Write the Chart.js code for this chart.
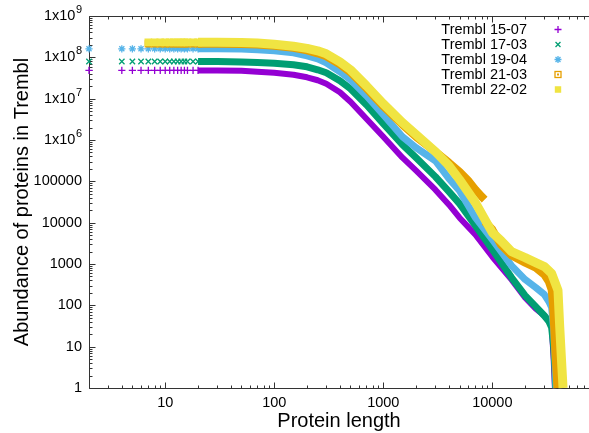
<!DOCTYPE html>
<html>
<head>
<meta charset="utf-8">
<script src="https://cdn.jsdelivr.net/npm/chart.js@4.4.0/dist/chart.umd.min.js"></script>
<style>
html, body { margin: 0; padding: 0; background: #fff; }
</style>
</head>
<body>
<canvas id="chart" width="589" height="433"></canvas>
<script>
// values (protein length -> number of proteins)
const len1507 = [2, 4, 5, 6, 7, 8, 9, 10, 11, 12, 13, 14, 15, 16, 18, 20,
    30, 50, 70, 100, 150, 200, 250, 300, 400, 500, 700, 1000, 1500, 2000, 3000, 4000, 5000,
    7000, 10000, 15000, 20000, 25000, 30000, 35000, 36500, 37500];
const n1507 = [48100000, 48100000, 48100000, 48100000, 48100000, 48100000, 48100000, 48100000,
    48100000, 48100000, 48100000, 48100000, 48100000, 48100000, 48100000, 48100000,
    47800000, 47300000, 44800000, 42300000, 37900000, 32900000, 27900000, 22900000, 14300000,
    8420000, 3270000, 1200000, 373000, 181000, 62800, 27200, 13200,
    5130, 1500, 420, 154, 83, 56, 34, 5, 1];

const len1703 = [2, 4, 5, 6, 7, 8, 9, 10, 11, 12, 13, 14, 15, 16, 18, 20,
    30, 50, 70, 100, 150, 200, 250, 300, 400, 500, 700, 1000, 1500, 2000, 3000, 4000, 5000,
    7000, 10000, 15000, 20000, 25000, 30000, 33000, 35000, 36500, 37500, 38000];
const n1703 = [79300000, 79300000, 79300000, 79300000, 79300000, 79300000, 79300000, 79300000,
    79300000, 79300000, 79300000, 79300000, 79300000, 79300000, 79300000, 79300000,
    78900000, 77100000, 74600000, 71800000, 66000000, 59100000, 50000000, 42300000, 27100000,
    17400000, 7130000, 2480000, 769000, 373000, 130000, 56300, 28800,
    8470, 2230, 469, 172, 93, 56, 41, 29, 10, 3, 1];

const len1904 = [2, 4, 5, 6, 7, 8, 9, 10, 11, 12, 13, 14, 15, 16, 18, 20,
    30, 50, 70, 100, 150, 200, 250, 300, 400, 500, 700, 1000, 1500, 2000, 3000, 4000, 5000,
    7000, 10000, 15000, 20000, 25000, 30000, 33000, 35000, 36500, 37500, 38500];
const n1904 = [161000000, 161000000, 161000000, 161000000, 161000000, 161000000, 161000000, 161000000,
    161000000, 161000000, 161000000, 161000000, 161000000, 161000000, 161000000, 161000000,
    161000000, 158000000, 152000000, 144000000, 129000000, 109000000, 92200000, 73800000, 44700000,
    28700000, 11800000, 4080000, 1200000, 650000, 315000, 116000, 59400,
    13200, 3890, 914, 420, 269, 182, 123, 88, 26, 6, 1];

const len2103 = [7, 8, 9, 10, 11, 12, 13, 14, 15, 16, 18, 20,
    30, 50, 70, 100, 150, 200, 250, 300, 400, 500, 700, 1000, 1500, 2000, 3000, 4000, 5000,
    6000, 7000, 8000, 8500, 8500, 10000, 12000, 15000, 20000, 25000, 30000, 33000, 35000,
    36000, 37000, 38000, 39000, 39500];
const n2103 = [212000000, 212000000, 212000000, 212000000, 212000000, 212000000,
    212000000, 212000000, 212000000, 212000000, 212000000, 212000000,
    212000000, 210000000, 203000000, 190000000, 170000000, 148000000, 125000000, 106000000, 67900000,
    43500000, 17900000, 6560000, 2350000, 1200000, 521000, 282000, 171000,
    104000, 62900, 42600, 36100, 10600, 6780, 2940, 1600, 1080, 818, 555, 373, 239,
    104, 26, 6, 2, 1];

const len2202 = [7, 8, 9, 10, 11, 12, 13, 14, 15, 16, 18, 20,
    30, 50, 70, 100, 150, 200, 250, 300, 400, 500, 700, 1000, 1500, 2000, 3000, 4000, 5000,
    7000, 10000, 12000, 15000, 20000, 25000, 30000, 35000, 38000, 40000, 41500, 43500, 44500];
const n2202 = [231000000, 231000000, 231000000, 231000000, 231000000, 231000000,
    231000000, 231000000, 231000000, 231000000, 231000000, 231000000,
    231000000, 229000000, 221000000, 207000000, 185000000, 165000000, 144000000, 122000000, 78000000,
    50000000, 20500000, 7530000, 2620000, 1340000, 521000, 239000, 110000,
    30500, 5740, 3680, 1995, 1430, 1080, 865, 586, 330, 230, 30, 3, 1];

const xTicks = [10, 100, 1000, 10000];
const yTicks = [1, 10, 100, 1000, 10000, 100000, 1e6, 1e7, 1e8, 1e9];

const FONT = 'Liberation Sans, Arial, sans-serif';

function series(label, xs, ys, color, style, width, radius, order) {
    return {
        label: label,
        data: xs.map((x, i) => ({ x: x, y: ys[i] })),
        showLine: true,
        borderColor: color,
        backgroundColor: color,
        borderWidth: width,
        borderJoinStyle: 'round',
        pointStyle: style,
        pointBorderWidth: 1.3,
        pointRadius: ctx => (ctx.raw && ctx.raw.x <= 20) ? radius : 0,
        segment: {
            // separate markers at small lengths, and no line across a jump
            borderColor: ctx => (ctx.p0.parsed.x < 20 || ctx.p0.parsed.x === ctx.p1.parsed.x) ? 'transparent' : color
        },
        clip: false,
        order: order
    };
}

// gnuplot-like border with inward ticks, and 1x10^n labels
const gnuAxes = {
    id: 'gnuAxes',
    beforeDatasetsDraw(chart) {
        const { ctx, chartArea: a, scales: { x, y } } = chart;
        const L = Math.round(a.left) + 0.5, B = Math.round(a.bottom) + 0.5, T = Math.round(a.top) + 0.5;
        const R = chart.width + 2;
        ctx.save();
        ctx.strokeStyle = '#333';
        ctx.lineWidth = 1;
        ctx.beginPath();
        ctx.moveTo(R, T); ctx.lineTo(L, T); ctx.lineTo(L, B); ctx.lineTo(R, B);
        for (let d = 1; d <= 100000; d *= 10) {
            for (let m = 1; m < 10; m++) {
                const v = d * m;
                if (v < x.min) continue;
                const px = Math.round(x.getPixelForValue(v)) + 0.5;
                if (px > R) continue;
                const len = m === 1 ? 6 : 3;
                ctx.moveTo(px, B); ctx.lineTo(px, B - len);
                ctx.moveTo(px, T); ctx.lineTo(px, T + len);
            }
        }
        for (let d = 1; d <= 1e9; d *= 10) {
            for (let m = 1; m < 10; m++) {
                const v = d * m;
                if (v < y.min || v > y.max) continue;
                const py = Math.round(y.getPixelForValue(v)) + 0.5;
                const len = m === 1 ? 6 : 3;
                ctx.moveTo(L, py); ctx.lineTo(L + len, py);
            }
        }
        ctx.stroke();

        // y tick labels
        ctx.fillStyle = '#000';
        ctx.textBaseline = 'middle';
        ctx.textAlign = 'right';
        const right = a.left - 7;
        yTicks.forEach(v => {
            const py = y.getPixelForValue(v);
            const e = Math.round(Math.log10(v));
            if (v < 1e6) {
                ctx.font = '14.5px ' + FONT;
                ctx.fillText(String(v), right, py);
            } else {
                ctx.font = '11px ' + FONT;
                const ew = ctx.measureText(String(e)).width;
                ctx.fillText(String(e), right, py - 6);
                ctx.font = '14.5px ' + FONT;
                ctx.fillText('1x10', right - ew - 0.5, py);
            }
        });
        ctx.restore();
    }
};

// key in the top right corner: text right aligned, marker after it
const gnuKey = {
    id: 'gnuKey',
    afterDatasetsDraw(chart) {
        const { ctx, chartArea: a } = chart;
        ctx.save();
        ctx.font = '14.5px ' + FONT;
        ctx.textAlign = 'right';
        ctx.textBaseline = 'middle';
        chart.data.datasets.forEach((ds, i) => {
            const ty = a.top + 13.5 + i * 15;
            const tx = chart.width - 62;
            const mx = chart.width - 31;
            ctx.fillStyle = '#000';
            ctx.fillText(ds.label, tx, ty);
            ctx.strokeStyle = ds.borderColor;
            ctx.fillStyle = ds.borderColor;
            if (i === 3) {
                ctx.lineWidth = 1.3;
                ctx.strokeRect(mx - 3, ty - 3, 6, 6);
                ctx.fillRect(mx - 1, ty - 1, 2, 2);
            } else {
                Chart.helpers.drawPoint(ctx, {
                    pointStyle: ds.pointStyle, radius: i === 4 ? 3.6 : 3.5, rotation: 0, borderWidth: 1.3
                }, mx, ty);
            }
        });
        ctx.restore();
    }
};

const datasets = [
    series('Trembl 15-07', len1507, n1507, '#9400d3', 'cross', 6, 3.6, 5),
    series('Trembl 17-03', len1703, n1703, '#009e73', 'crossRot', 7, 3.8, 4),
    series('Trembl 19-04', len1904, n1904, '#56b4e9', 'star', 7, 3.6, 3),
    series('Trembl 21-03', len2103, n2103, '#e69f00', 'rect', 8, 4.3, 2),
    series('Trembl 22-02', len2202, n2202, '#f0e442', 'rect', 9, 4.5, 1)
];

new Chart(document.getElementById('chart'), {
    type: 'scatter',
    data: { datasets: datasets },
    options: {
        responsive: false,
        animation: false,
        events: [],
        layout: { autoPadding: false, padding: { top: 16, right: 0, left: 0, bottom: 0 } },
        plugins: {
            legend: { display: false },
            tooltip: { enabled: false }
        },
        scales: {
            x: {
                type: 'logarithmic',
                min: 2,
                max: 77000,
                afterBuildTicks: s => { s.ticks = xTicks.map(v => ({ value: v })); },
                afterFit: s => { s.height = 45; s.paddingLeft = 0; s.paddingRight = 0; },
                grid: { display: false, drawTicks: false },
                border: { display: false },
                ticks: {
                    autoSkip: false, maxRotation: 0, padding: 6, color: '#000',
                    font: { family: FONT, size: 14.5 },
                    callback: v => String(v)
                },
                title: {
                    display: true, text: 'Protein length', color: '#000',
                    font: { family: FONT, size: 20 }, padding: { top: 1, bottom: 0 }
                }
            },
            y: {
                type: 'logarithmic',
                min: 1,
                max: 1e9,
                afterBuildTicks: s => { s.ticks = yTicks.map(v => ({ value: v })); },
                afterFit: s => { s.width = 89; },
                grid: { display: false, drawTicks: false },
                border: { display: false },
                ticks: { display: false },
                title: {
                    display: true, text: 'Abundance of proteins in Trembl', color: '#000',
                    font: { family: FONT, size: 20 }, padding: { top: 10, bottom: 0 }
                }
            }
        }
    },
    plugins: [gnuAxes, gnuKey]
});
</script>
</body>
</html>
